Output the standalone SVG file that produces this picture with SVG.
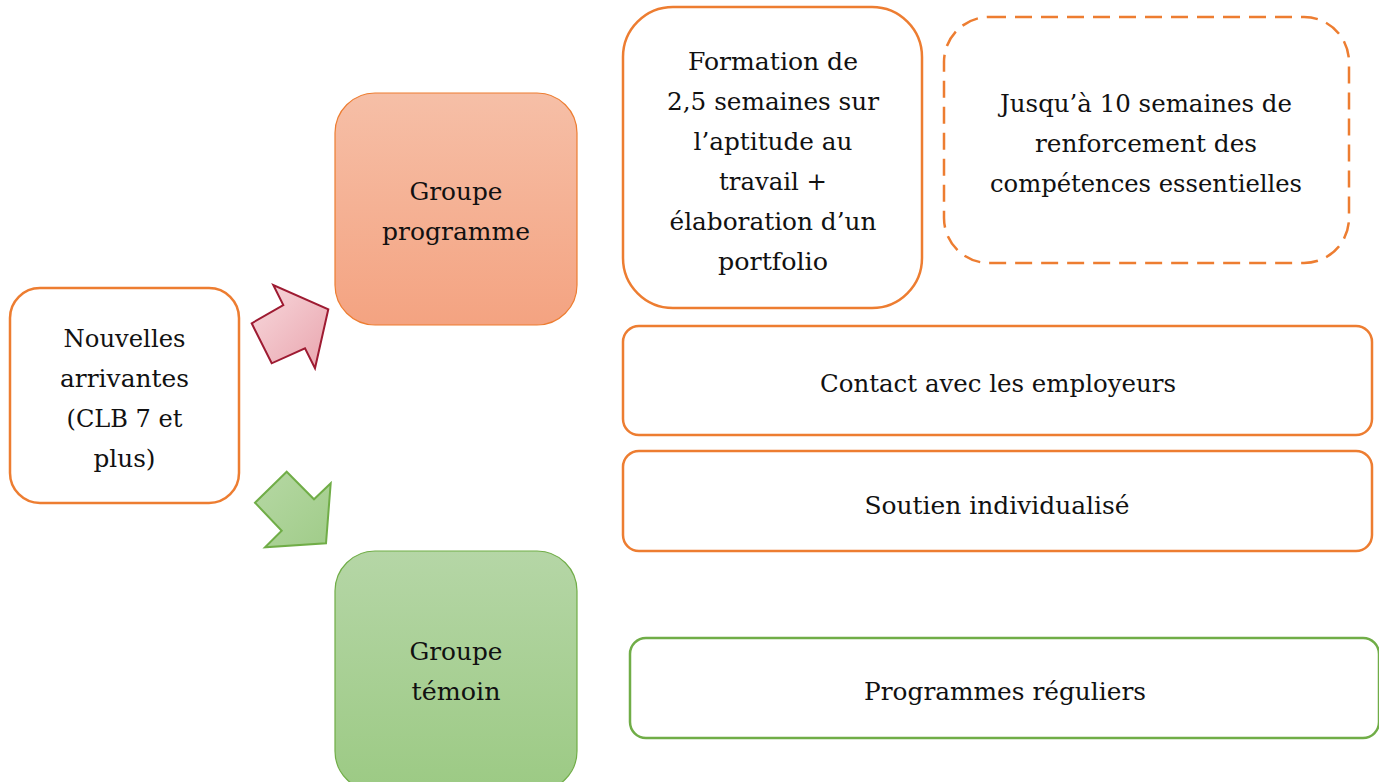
<svg xmlns="http://www.w3.org/2000/svg" width="1379" height="782" viewBox="0 0 1379 782">
  <style>
    .lbl { font-family: "DejaVu Serif", "Liberation Serif", serif; font-size: 25px; fill: #111; text-anchor: middle; }
    .box { fill: #fff; stroke: #ED7D31; stroke-width: 2.5; }
    .boxg { fill: #fff; stroke: #70AD47; stroke-width: 2.5; }
  </style>
  <defs>
    <linearGradient id="gOrange" x1="0" y1="0" x2="0" y2="1">
      <stop offset="0" stop-color="#F6BFA7"/>
      <stop offset="1" stop-color="#F4A381"/>
    </linearGradient>
    <linearGradient id="gGreen" x1="0" y1="0" x2="0" y2="1">
      <stop offset="0" stop-color="#B5D6A6"/>
      <stop offset="1" stop-color="#9CCA84"/>
    </linearGradient>
    <linearGradient id="gPink" x1="0" y1="0" x2="1" y2="1">
      <stop offset="0" stop-color="#F8D9DD"/>
      <stop offset="1" stop-color="#E9A5AE"/>
    </linearGradient>
    <linearGradient id="gArrowGreen" x1="0" y1="0" x2="1" y2="1">
      <stop offset="0" stop-color="#B6D8A4"/>
      <stop offset="1" stop-color="#A0CC89"/>
    </linearGradient>
  </defs>
  <rect width="1379" height="782" fill="#fff"/>

  <!-- block arrows between the start box and the two groups -->
  <g id="connectors">
    <polygon points="273.3,285 283.3,305 251.7,323.3 271.7,363.3 305,348.3 315,368.3 328.3,309.3" fill="url(#gPink)" stroke="#9E1B32" stroke-width="2"/>
    <polygon points="286.7,471.7 314,499.3 330.7,483.3 326,543.3 265,547.3 281.7,530.7 255,502.7" fill="url(#gArrowGreen)" stroke="#70AD47" stroke-width="2"/>
  </g>

  <g id="nouvelles">
    <rect class="box" x="10" y="288" width="229" height="215" rx="30"/>
    <text class="lbl" x="124.5" y="347" textLength="122" lengthAdjust="spacingAndGlyphs">Nouvelles</text>
    <text class="lbl" x="124.5" y="387" textLength="129" lengthAdjust="spacingAndGlyphs">arrivantes</text>
    <text class="lbl" x="124.5" y="427" textLength="116" lengthAdjust="spacingAndGlyphs">(CLB 7 et</text>
    <text class="lbl" x="124.5" y="467" textLength="62" lengthAdjust="spacingAndGlyphs">plus)</text>
  </g>

  <g id="groupe-programme">
    <rect x="335" y="93" width="242" height="232" rx="40" fill="url(#gOrange)" stroke="#ED7D31" stroke-width="1.2"/>
    <text class="lbl" x="456" y="200" textLength="93" lengthAdjust="spacingAndGlyphs">Groupe</text>
    <text class="lbl" x="456" y="240" textLength="148" lengthAdjust="spacingAndGlyphs">programme</text>
  </g>

  <g id="groupe-temoin">
    <rect x="335" y="551" width="242" height="240" rx="40" fill="url(#gGreen)" stroke="#70AD47" stroke-width="1.2"/>
    <text class="lbl" x="456" y="660" textLength="93" lengthAdjust="spacingAndGlyphs">Groupe</text>
    <text class="lbl" x="456" y="700" textLength="89" lengthAdjust="spacingAndGlyphs">témoin</text>
  </g>

  <g id="formation">
    <rect class="box" x="623" y="7" width="299" height="301" rx="50"/>
    <text class="lbl" x="773" y="70" textLength="170" lengthAdjust="spacingAndGlyphs">Formation de</text>
    <text class="lbl" x="773" y="110" textLength="212" lengthAdjust="spacingAndGlyphs">2,5 semaines sur</text>
    <text class="lbl" x="773" y="150" textLength="159" lengthAdjust="spacingAndGlyphs">l’aptitude au</text>
    <text class="lbl" x="773" y="190" textLength="108" lengthAdjust="spacingAndGlyphs">travail +</text>
    <text class="lbl" x="773" y="230" textLength="207" lengthAdjust="spacingAndGlyphs">élaboration d’un</text>
    <text class="lbl" x="773" y="270" textLength="110" lengthAdjust="spacingAndGlyphs">portfolio</text>
  </g>

  <g id="renforcement">
    <rect x="944" y="17" width="405" height="246" rx="45" fill="#fff" stroke="#ED7D31" stroke-width="2.5" stroke-dasharray="17 9"/>
    <text class="lbl" x="1146" y="112" textLength="292" lengthAdjust="spacingAndGlyphs">Jusqu’à 10 semaines de</text>
    <text class="lbl" x="1146" y="152" textLength="222" lengthAdjust="spacingAndGlyphs">renforcement des</text>
    <text class="lbl" x="1146" y="192" textLength="312" lengthAdjust="spacingAndGlyphs">compétences essentielles</text>
  </g>

  <g id="contact">
    <rect class="box" x="623" y="326" width="749" height="109" rx="16"/>
    <text class="lbl" x="998" y="392" textLength="356" lengthAdjust="spacingAndGlyphs">Contact avec les employeurs</text>
  </g>

  <g id="soutien">
    <rect class="box" x="623" y="451" width="749" height="100" rx="16"/>
    <text class="lbl" x="997" y="514" textLength="265" lengthAdjust="spacingAndGlyphs">Soutien individualisé</text>
  </g>

  <g id="programmes-reguliers">
    <rect class="boxg" x="630" y="638" width="749" height="100" rx="16"/>
    <text class="lbl" x="1005" y="700" textLength="282" lengthAdjust="spacingAndGlyphs">Programmes réguliers</text>
  </g>
</svg>
